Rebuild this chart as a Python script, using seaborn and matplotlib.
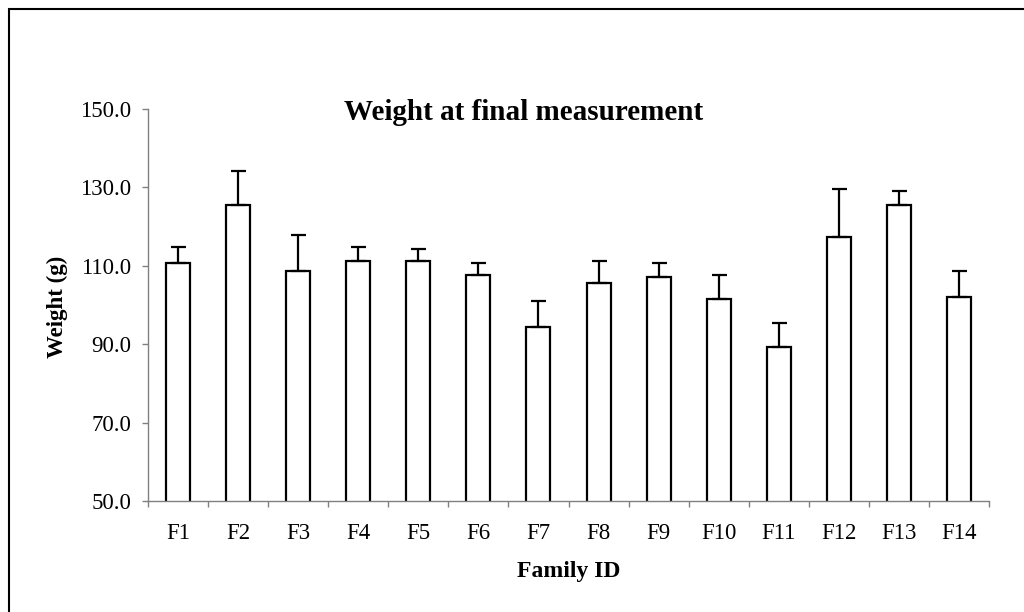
import numpy as np
import pandas as pd
import matplotlib
matplotlib.use("Agg")
import matplotlib.pyplot as plt
from matplotlib.patches import Rectangle
from matplotlib.ticker import FixedLocator, FormatStrFormatter
import seaborn as sns

# Family means and standard errors of body weight (g)
families = ["F1", "F2", "F3", "F4", "F5", "F6", "F7",
            "F8", "F9", "F10", "F11", "F12", "F13", "F14"]
mean_weight = [110.7, 125.5, 108.7, 111.2, 111.2, 107.7, 94.4,
               105.7, 107.1, 101.5, 89.3, 117.4, 125.5, 102.0]
std_error = [4.2, 8.7, 9.1, 3.7, 3.1, 3.0, 6.6,
             5.5, 3.6, 6.2, 6.2, 12.2, 3.6, 6.7]
y_ticks = [50, 70, 90, 110, 130, 150]

sns.set_style("white")
plt.rcParams["font.family"] = ["Liberation Serif", "DejaVu Serif"]
plt.rcParams["text.color"] = "black"
plt.rcParams["xtick.labelcolor"] = "black"
plt.rcParams["ytick.labelcolor"] = "black"

df = pd.DataFrame({"Family": families, "Weight": mean_weight})

fig = plt.figure(figsize=(10.24, 6.12), dpi=100)
ax = fig.add_axes([148 / 1024, 111 / 612, (989 - 148) / 1024, (501 - 109) / 612])

sns.barplot(data=df, x="Family", y="Weight", color="white", edgecolor="black",
            linewidth=1.6, width=0.4, errorbar=None, ax=ax)
for p in ax.patches:
    p.set_facecolor("white")

# one-sided (upper) error bars
ax.errorbar(np.arange(len(families)), mean_weight,
            yerr=[np.zeros(len(std_error)), std_error],
            fmt="none", ecolor="black", elinewidth=1.6, capsize=5.4, capthick=1.6,
            zorder=3)

ax.set_ylim(50, 150)
ax.set_xlim(-0.5, len(families) - 0.5)
ax.yaxis.set_major_locator(FixedLocator(y_ticks))
ax.yaxis.set_major_formatter(FormatStrFormatter("%.1f"))

# category boundary ticks on x, labels centred without ticks
ax.xaxis.set_minor_locator(FixedLocator(np.arange(-0.5, len(families), 1.0)))
ax.tick_params(axis="x", which="major", length=0, pad=16, labelsize=16.5,
               labelcolor="black")
ax.tick_params(axis="x", which="minor", length=4, width=1, color="#808080",
               direction="out", bottom=True)
ax.tick_params(axis="y", which="major", length=4, width=1, color="#808080",
               direction="out", left=True, pad=8, labelsize=16.5,
               labelcolor="black")

for side in ["top", "right"]:
    ax.spines[side].set_visible(False)
for side in ["left", "bottom"]:
    ax.spines[side].set_color("#808080")
    ax.spines[side].set_linewidth(1.0)

ax.set_xlabel("")
ax.set_ylabel("")
fig.text(569 / 1024, 1 - 572 / 612, "Family ID", ha="center", va="center",
         fontsize=17, fontweight="bold", color="black")
fig.text(57 / 1024, 1 - 307 / 612, "Weight (g)", ha="center", va="center",
         rotation=90, fontsize=16.5, fontweight="bold", color="black")
fig.text(524 / 1024, 1 - 113 / 612, "Weight at final measurement",
         ha="center", va="center", fontsize=21, fontweight="bold", color="black")

# chart-area border
fig.patches.append(Rectangle((9 / 1024, -0.1), 1.2, 1.1 - 9 / 612,
                             transform=fig.transFigure, fill=False,
                             edgecolor="black", linewidth=1.5, clip_on=False))

fig.savefig("out.png", dpi=100, facecolor="white")
